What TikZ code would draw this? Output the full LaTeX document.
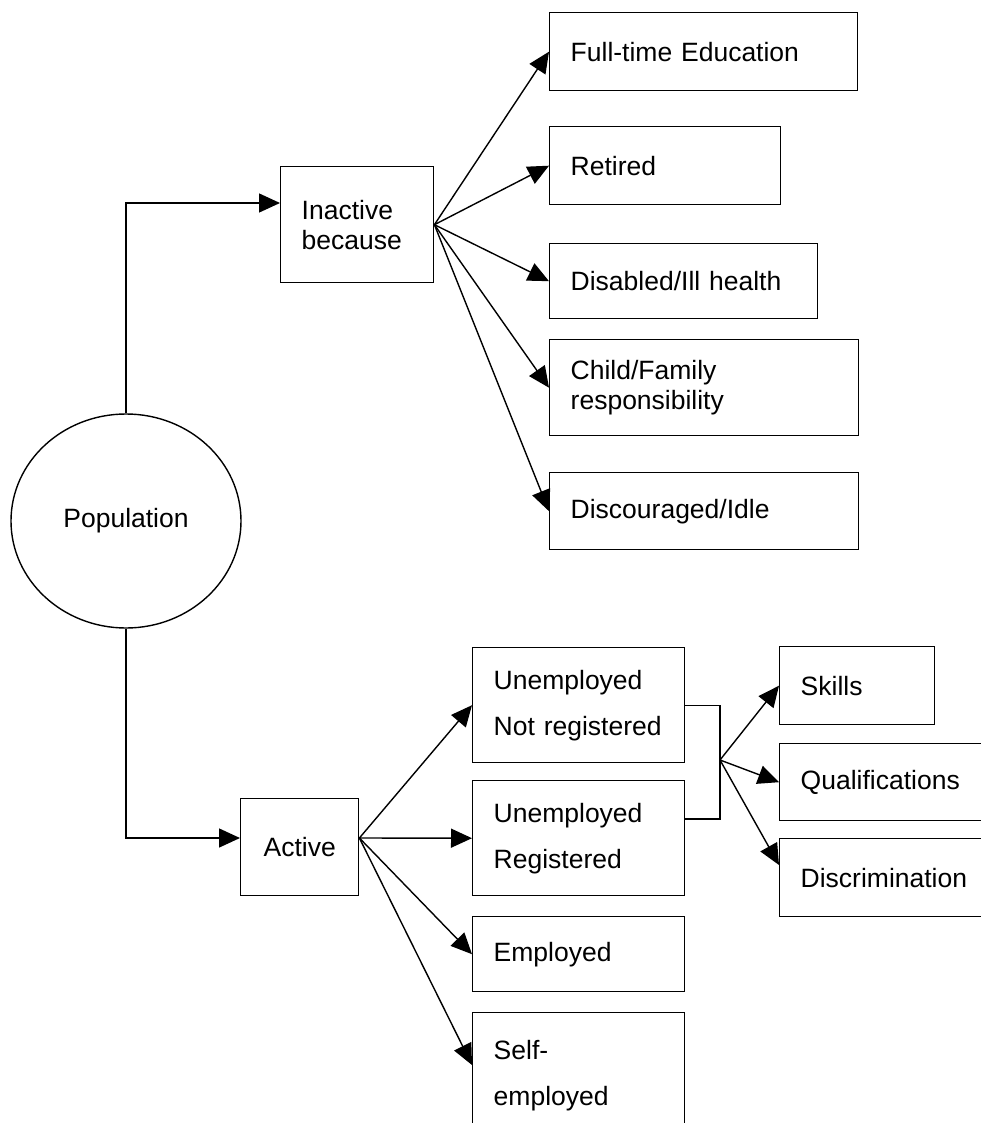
\documentclass[tikz,border=0pt]{standalone}
\usepackage{fontspec}
\setmainfont{Liberation Sans}
\usetikzlibrary{arrows.meta,calc,shapes.geometric}
\newcommand\fsA{\fontsize{26.5}{30}\selectfont\hyphenpenalty=10000 }
\newcommand\fsB{\fontsize{26.5}{46}\selectfont\hyphenpenalty=10000 }
\begin{document}
\begin{tikzpicture}[x=1pt,y=-1pt,
  box/.style={draw, line width=1.4pt, rectangle, anchor=north west, inner xsep=21pt, inner ysep=0pt, align=left, font=\fsA},
  boxB/.style={box, font=\fsB},
  arr/.style={line width=1.4pt, -{Triangle[length=21pt,width=19pt]}},
  conn/.style={line width=1.4pt}]
\fill[white] (0,0) rectangle (981,1123);
\useasboundingbox (0,0) rectangle (981,1123);
% population
\node[draw, line width=1.4pt, ellipse, minimum width=230pt, minimum height=214pt, inner sep=0pt, font=\fsA] (pop) at (126,521) {Population};
% inactive branch
\node[box, text width=111pt, minimum height=116pt] (inact) at (280,166) {Inactive\\because};
\node[box, text width=266pt, minimum height=78pt] (ft) at (549,12) {\mbox{Full-time Education}};
\node[box, text width=189pt, minimum height=78pt] (ret) at (549,126) {Retired};
\node[box, text width=226pt, minimum height=75pt] (dis) at (549,243) {\mbox{Disabled/Ill health}};
\node[box, text width=267pt, minimum height=96pt] (chi) at (549,339) {Child/Family\\responsibility};
\node[box, text width=267pt, minimum height=77pt] (disc) at (549,472) {Discouraged/Idle};
% active branch
\node[box, align=center, text width=76pt, minimum height=97pt] (act) at (240,798) {Active};
\node[boxB, text width=170pt, minimum height=115pt] (unr) at (472,647) {Unemployed\\\mbox{Not registered}};
\node[boxB, text width=170pt, minimum height=115pt] (ur) at (472,780) {Unemployed\\Registered};
\node[box, text width=170pt, minimum height=75pt] (emp) at (472,916) {Employed};
\node[boxB, text width=170pt, minimum height=125pt] (se) at (472,1012) {Self-\\employed};
% reasons
\node[box, text width=113pt, minimum height=78pt] (sk) at (779,646) {Skills};
\node[box, text width=188pt, minimum height=77pt] (qu) at (779,743) {Qualifications};
\node[box, text width=188pt, minimum height=78pt] (dsc) at (779,838) {Discrimination};
% connectors
\coordinate (inin) at ($(inact.north west)+(0,37)$);
\coordinate (actin) at ($(act.north west)+(0,40)$);
\coordinate (actout) at ($(act.north east)+(0,40)$);
\draw[arr] (pop.north) |- (inin);
\draw[arr] (pop.south) |- (actin);
\foreach \t in {ft,ret,dis,chi,disc} \draw[arr] (inact.east) -- (\t.west);
\draw[arr] (actout) -- (unr.west);
\draw[arr] (actout) -- (ur.west);
\draw[arr] (actout) -- (emp.west);
\draw[arr] (actout) -- ($(se.north west)+(0,53)$);
\coordinate (fan) at (720,760);
\draw[conn] (unr.east) -| (fan) |- ($(ur.north east)+(0,39)$);
\draw[arr] (fan) -- (sk.west);
\draw[arr] (fan) -- (qu.west);
\draw[arr] (fan) -- ($(dsc.north west)+(0,27)$);
\end{tikzpicture}
\end{document}
